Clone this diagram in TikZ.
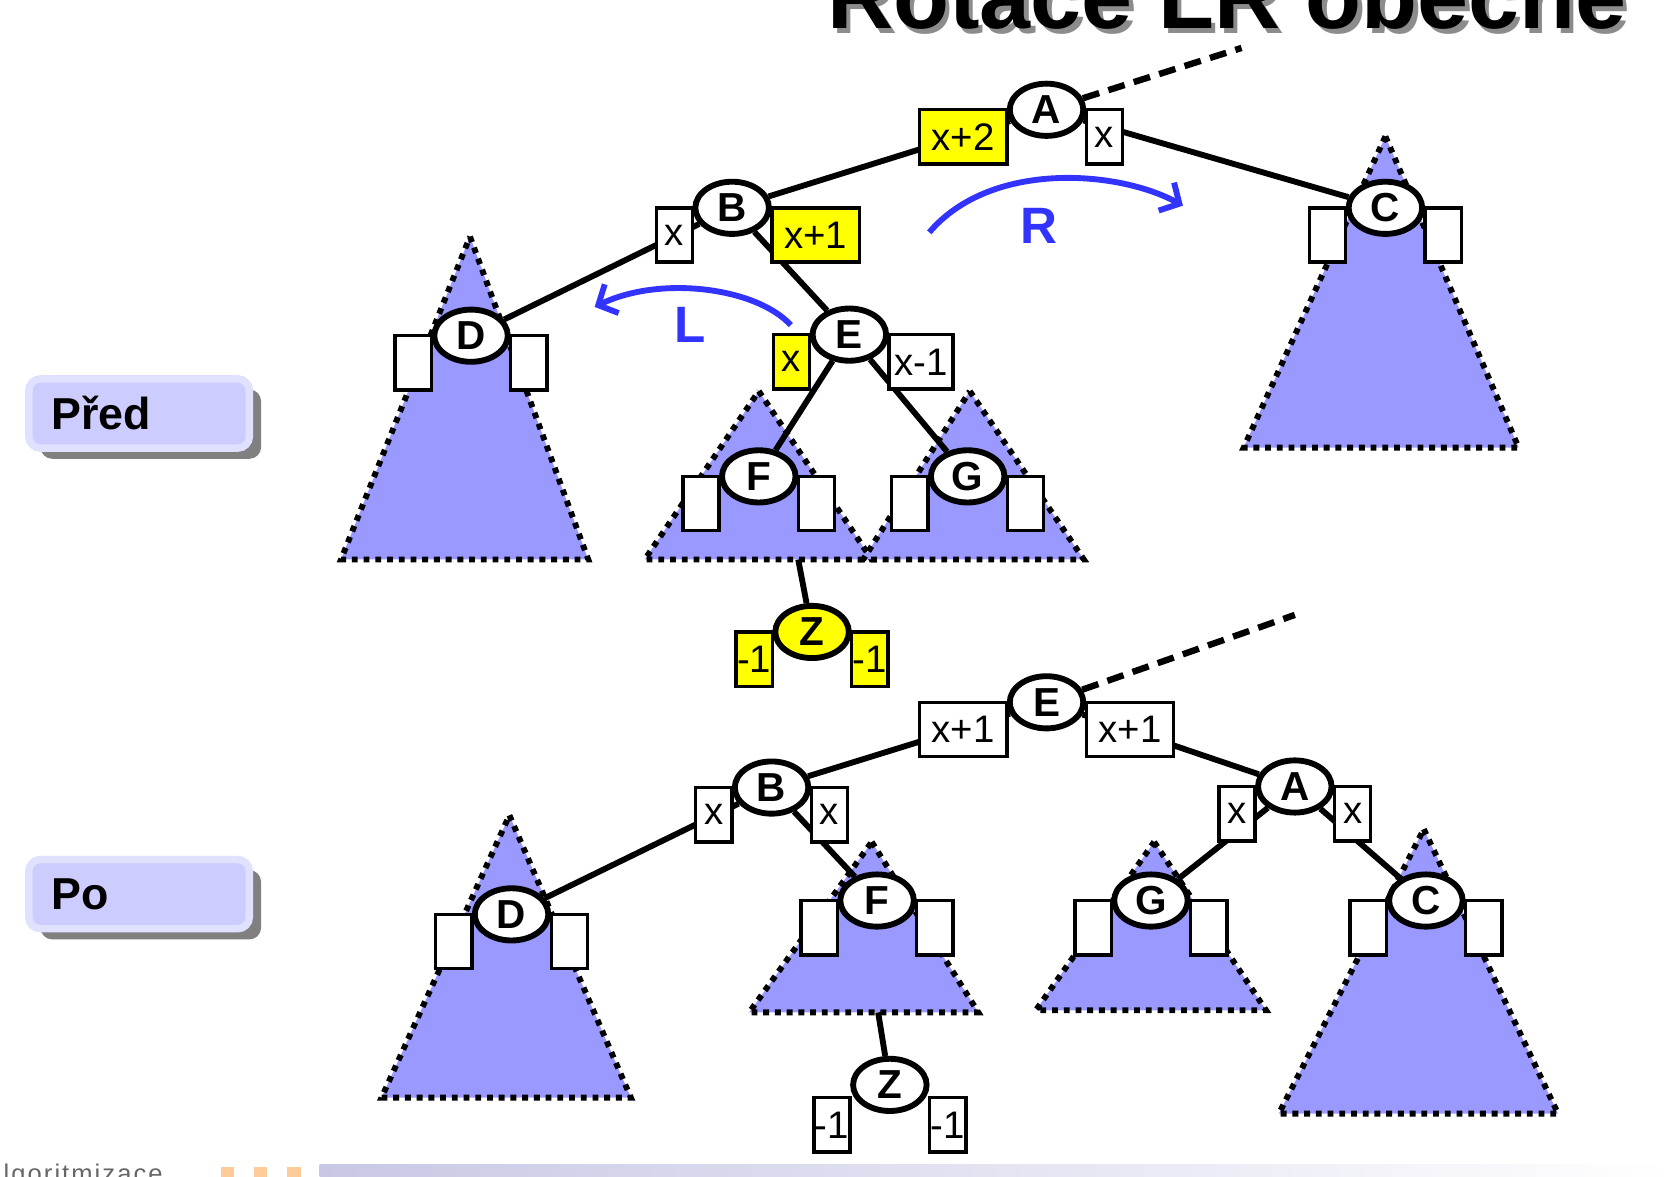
\documentclass[tikz,border=0pt]{standalone}
\usepackage{fontspec}
\setmainfont{Liberation Sans}
\usetikzlibrary{arrows.meta,positioning,shapes.geometric,shadows,backgrounds}
\definecolor{treefill}{RGB}{153,153,255}
\definecolor{rotblue}{RGB}{51,51,255}
\definecolor{hiyellow}{RGB}{255,255,0}
\definecolor{tagfill}{RGB}{204,204,255}
\definecolor{tagrim}{RGB}{224,224,255}
\definecolor{footbar}{RGB}{200,200,230}
\definecolor{footsq}{RGB}{255,204,153}

\begin{document}
\begin{tikzpicture}[x=1pt, y=-1pt,
vertex/.style={ellipse, draw, line width=5.5pt, fill=white, minimum width=69pt, minimum height=49pt, inner sep=0pt, font=\fontsize{38}{38}\selectfont\bfseries},
bal/.style={draw, line width=3.2pt, fill=white, minimum width=34pt, minimum height=51pt, inner sep=1pt, outer sep=0pt, font=\fontsize{36}{36}\selectfont},
wide/.style={minimum width=82pt},
hot/.style={fill=hiyellow},
link/.style={line width=5.5pt},
uplink/.style={line width=6pt, dash pattern=on 16pt off 9pt},
subtree/.style={fill=treefill, draw=black, line width=5.5pt, dash pattern=on 5.5pt off 5.5pt},
rot/.style={draw=rotblue, line width=5.5pt, -{Straight Barb[length=14pt,width=30pt]}},
rotlabel/.style={text=rotblue, font=\fontsize{48}{48}\selectfont\bfseries},
tag/.style={draw=tagrim, line width=7pt, fill=tagfill, rounded corners=11pt, minimum width=207pt, minimum height=65pt, text width=165pt, align=left, inner sep=0pt, font=\fontsize{42}{42}\selectfont\bfseries, drop shadow={shadow xshift=11pt, shadow yshift=-10pt, fill=black!50, opacity=1}}
]
\useasboundingbox (0,0) rectangle (1568,1104);

% title
\node[anchor=base east, text=black!45, font=\fontsize{86}{86}\selectfont\bfseries] at (1534,31) {Rotace LR obecně};
\node[anchor=base east, font=\fontsize{86}{86}\selectfont\bfseries] (title) at (1530,27) {Rotace LR obecně};

% labels
\node[tag] (pred) at (130.5,388) {Před};
\node[tag] (po) at (130.5,839) {Po};

% tree before
\node[vertex] (tA) at (982,103) {A};
\node[vertex] (tB) at (687,195) {B};
\node[vertex] (tC) at (1300,195) {C};
\node[vertex] (tD) at (442,315) {D};
\node[vertex] (tE) at (797,314) {E};
\node[vertex] (tF) at (712,447) {F};
\node[vertex] (tG) at (908,447) {G};
\node[vertex, hot] (tZ) at (762,593) {Z};

\node[bal, wide, hot, below left=0pt of tA.west] (tAl) {x+2};
\node[bal, below right=0pt of tA.east] (tAr) {x};
\node[bal, below left=0pt of tB.west] (tBl) {x};
\node[bal, wide, hot, below right=0pt of tB.east] (tBr) {x+1};
\node[bal, below left=0pt of tC.west] (tCl) {};
\node[bal, below right=0pt of tC.east] (tCr) {};
\node[bal, below left=0pt of tD.west] (tDl) {};
\node[bal, below right=0pt of tD.east] (tDr) {};
\node[bal, hot, below left=0pt of tE.west] (tEl) {x};
\node[bal, minimum width=60pt, below right=0pt of tE.east] (tEr) {x-1};
\node[bal, below left=0pt of tF.west] (tFl) {};
\node[bal, below right=0pt of tF.east] (tFr) {};
\node[bal, below left=0pt of tG.west] (tGl) {};
\node[bal, below right=0pt of tG.east] (tGr) {};
\node[bal, hot, below left=0pt of tZ.west] (tZl) {-1};
\node[bal, hot, below right=0pt of tZ.east] (tZr) {-1};

\coordinate (tUp) at (1165,45);
\coordinate (tFz) at (749,525);

% tree after
\node[vertex] (bE) at (982,659) {E};
\node[vertex] (bB) at (724,739) {B};
\node[vertex] (bA) at (1215,738) {A};
\node[vertex] (bD) at (480,858) {D};
\node[vertex] (bF) at (823,845) {F};
\node[vertex] (bG) at (1080,845) {G};
\node[vertex] (bC) at (1338,845) {C};
\node[vertex] (bZ) at (835,1018) {Z};

\node[bal, wide, below left=0pt of bE.west] (bEl) {x+1};
\node[bal, wide, below right=0pt of bE.east] (bEr) {x+1};
\node[bal, below left=0pt of bB.west] (bBl) {x};
\node[bal, below right=0pt of bB.east] (bBr) {x};
\node[bal, below left=0pt of bA.west] (bAl) {x};
\node[bal, below right=0pt of bA.east] (bAr) {x};
\node[bal, below left=0pt of bD.west] (bDl) {};
\node[bal, below right=0pt of bD.east] (bDr) {};
\node[bal, below left=0pt of bF.west] (bFl) {};
\node[bal, below right=0pt of bF.east] (bFr) {};
\node[bal, below left=0pt of bG.west] (bGl) {};
\node[bal, below right=0pt of bG.east] (bGr) {};
\node[bal, below left=0pt of bC.west] (bCl) {};
\node[bal, below right=0pt of bC.east] (bCr) {};
\node[bal, below left=12pt and 0pt of bZ.west] (bZl) {-1};
\node[bal, below right=12pt and 0pt of bZ.east] (bZr) {-1};

\coordinate (bUp) at (1215,577);
\coordinate (bFz) at (824,950);

\begin{scope}[on background layer]
% subtrees
\draw[subtree] (441,222) -- (552,525) -- (320,525) -- cycle;
\draw[subtree] (1300,128) -- (1425,420) -- (1167,420) -- cycle;
\draw[subtree] (712,367) -- (818,525) -- (605,525) -- cycle;
\draw[subtree] (910,367) -- (1017,525) -- (810,525) -- cycle;
\draw[subtree] (478,765) -- (592,1030) -- (358,1030) -- cycle;
\draw[subtree] (818,790) -- (918,950) -- (703,950) -- cycle;
\draw[subtree] (1083,790) -- (1188,948) -- (972,948) -- cycle;
\draw[subtree] (1336,778) -- (1462,1045) -- (1200,1045) -- cycle;
% edges
\draw[uplink] (tA) -- (tUp);
\draw[link] (tA) -- (tB);
\draw[link] (tA) -- (tC);
\draw[link] (tB) -- (tD);
\draw[link] (tB) -- (tE);
\draw[link] (tE) -- (tF);
\draw[link] (tE) -- (tG);
\draw[link] (tFz) -- (tZ);
\draw[uplink] (bE) -- (bUp);
\draw[link] (bE) -- (bB);
\draw[link] (bE) -- (bA);
\draw[link] (bB) -- (bD);
\draw[link] (bB) -- (bF);
\draw[link] (bA) -- (bG);
\draw[link] (bA) -- (bC);
\draw[link] (bFz) -- (bZ);
\end{scope}

% rotations
\coordinate (rs) at (872,218);
\coordinate (re) at (1110,193);
\coordinate (ls) at (742,305);
\coordinate (le) at (558,288);
\draw[rot] (rs) .. controls (930,150) and (1050,160) .. (re);
\draw[rot] (ls) .. controls (710,270) and (620,258) .. (le);
\node[rotlabel] (rlab) at (975,212) {R};
\node[rotlabel] (llab) at (648,305) {L};

% footer
\node[anchor=base west, text=black!60, font=\fontsize{24}{24}\selectfont\addfontfeature{LetterSpace=8}] (foot) at (-18,1110) {Algoritmizace};
\foreach \sx in {207,238,269}
  \fill[footsq] (\sx,1095) rectangle ++(13,10);
\shade[left color=footbar, right color=white] (300,1093) rectangle (1568,1104);
\end{tikzpicture}
\end{document}
